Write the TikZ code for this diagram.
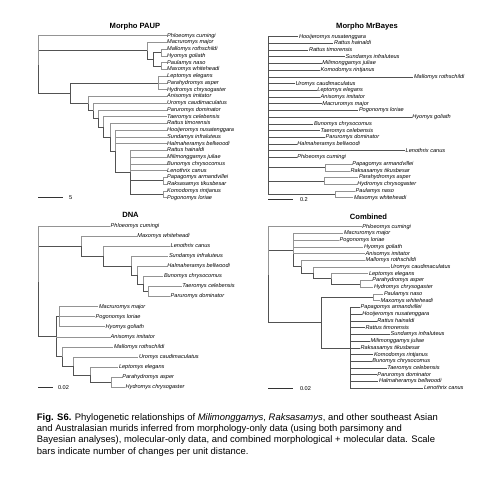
\documentclass[tikz,border=0pt]{standalone}
\usepackage{fontspec}
\setmainfont{Liberation Sans}
\usetikzlibrary{positioning}

\begin{document}
\begin{tikzpicture}[x=1pt,y=-1pt,
  lf/.style={anchor=west,inner sep=0.5pt,text height=4pt,text depth=1.2pt,font=\fontsize{5.6}{6}\selectfont\itshape},
  ttl/.style={font=\fontsize{7.6}{9}\selectfont\bfseries},
  br/.style={draw=black!42,line width=0.7pt},
  brk/.style={draw=black!68,line width=0.8pt},
  sc/.style={draw=black!80,line width=0.6pt},
  scl/.style={font=\fontsize{5.6}{6}\selectfont,inner sep=0.5pt}
]
\useasboundingbox (0,0) rectangle (501,480);

% Morpho PAUP
\node[ttl] (tpaup) at (135,26.7) {Morpho PAUP};
\foreach \t [count=\i] in {Phloeomys cumingi,Macruromys major,Mallomys rothschildi,
  Hyomys goliath,Paulamys naso,Maxomys whiteheadi,Leptomys elegans,Parahydromys asper,
  Hydromys chrysogaster,Anisomys imitator,Uromys caudimaculatus,Paruromys dominator,
  Taeromys celebensis,Rattus timorensis,Hooijeromys nusatenggara,Sundamys infraluteus,
  Halmaheramys bellwoodi,Rattus hainaldi,Milimonggamys juliae,Bunomys chrysocomus,
  Lenothrix canus,Papagomys armandvillei,Raksasamys tikusbesar,Komodomys rintjanus,
  Pogonomys loriae}
  \node[lf] (a\i) at (166.5,{35.7+6.75*(\i-1)}) {\t};
\coordinate (a0) at (38.3,64.5);
\coordinate (aA) at (147.3,50.89);
\coordinate (aA1) at (153.3,59.33);
\coordinate (aA2) at (161.7,52.58);
\coordinate (aA3) at (161.7,66.08);
\coordinate (aB) at (70,93.3);
\coordinate (aL) at (158.3,82.95);
\coordinate (aC) at (88.3,103.65);
\coordinate (aD) at (93.3,110.85);
\coordinate (aE) at (98.3,118.49);
\coordinate (aF) at (103.3,127.04);
\coordinate (aG) at (110,137.37);
\coordinate (aH) at (115,151.3);
\coordinate (aI) at (130,172.39);
\coordinate (aJ) at (163.3,180.83);
\coordinate (aK) at (163.3,194.33);
\foreach \p/\c in {a0/aA,a0/aB,aA/aA1,aA1/aA2,aA1/aA3,aB/aL,aB/aC,aC/aD,aD/aE,
  aE/aF,aF/aG,aG/aH,aH/aI,aI/aJ,aI/aK}
  \draw[brk] (\p) |- (\c);
\foreach \p/\c in {a0/a1,aA/a2,aA2/a3,aA2/a4,aA3/a5,aA3/a6,aL/a7,aL/a8,aL/a9,
  aC/a10,aD/a11,aE/a12,aF/a13,aG/a14,aH/a15,aH/a16,aH/a17,aI/a18,aI/a19,aI/a20,
  aI/a21,aJ/a22,aJ/a23,aK/a24,aK/a25}
  \draw[br] (\p) |- (\c);
\coordinate (sa1) at (38.3,197.7);
\coordinate (sa2) at (63.3,197.7);
\draw[sc] (sa1) -- (sa2);
\node[scl,right=5pt of sa2] (sa) {5};

% Morpho MrBayes
\node[ttl] (tbayes) at (367,27) {Morpho MrBayes};
\foreach \x/\t [count=\i] in {298.3/Hooijeromys nusatenggara,333.3/Rattus hainaldi,
  308.3/Rattus timorensis,345/Sundamys infraluteus,321.7/Milimonggamys juliae,
  320/Komodomys rintjanus,413.3/Mallomys rothschildi,295/Uromys caudimaculatus,
  316.7/Leptomys elegans,320/Anisomys imitator,321.7/Macruromys major,
  358.3/Pogonomys loriae,411.7/Hyomys goliath,313.3/Bunomys chrysocomus,
  320/Taeromys celebensis,325/Paruromys dominator,296.7/Halmaheramys bellwoodi,
  405/Lenothrix canus,296.7/Phloeomys cumingi,351.7/Papagomys armandvillei,
  350/Raksasamys tikusbesar,358.3/Parahydromys asper,356.7/Hydromys chrysogaster,
  355/Paulamys naso,353.3/Maxomys whiteheadi}
  \node[lf] (b\i) at (\x,{36.7+6.708*(\i-1)}) {\t};
\coordinate (b0) at (268.3,115.5);
\coordinate (bP) at (325,167.5);
\coordinate (bQ) at (324,180.95);
\coordinate (bS) at (335,194.35);
\foreach \p/\c in {b0/bP,b0/bQ,b0/bS}
  \draw[brk] (\p) |- (\c);
\foreach \i in {1,...,19}
  \draw[brk] (b0) |- (b\i);
\foreach \p/\c in {bP/b20,bP/b21,bQ/b22,bQ/b23,bS/b24,bS/b25}
  \draw[br] (\p) |- (\c);
\coordinate (sb1) at (268.3,199.5);
\coordinate (sb2) at (293.3,199.5);
\draw[sc] (sb1) -- (sb2);
\node[scl,right=6pt of sb2] (sb) {0.2};

% DNA
\node[ttl] (tdna) at (130.5,215) {DNA};
\foreach \x/\t [count=\i] in {110/Phloeomys cumingi,136.7/Maxomys whiteheadi,
  170/Lenothrix canus,168.3/Sundamys infraluteus,166.7/Halmaheramys bellwoodi,
  163.3/Bunomys chrysocomus,181.7/Taeromys celebensis,170/Paruromys dominator,
  98.3/Macruromys major,95/Pogonomys loriae,105/Hyomys goliath,110/Anisomys imitator,
  113.3/Mallomys rothschildi,138.3/Uromys caudimaculatus,118.3/Leptomys elegans,
  121.7/Parahydromys asper,125/Hydromys chrysogaster}
  \node[lf] (c\i) at (\x,{226+10.08*(\i-1)}) {\t};
\coordinate (c0) at (38.3,281.5);
\coordinate (cR1) at (81.7,246.1);
\coordinate (cR2) at (103.3,256.1);
\coordinate (cR3) at (131.7,265.9);
\coordinate (cR4) at (137.3,275.4);
\coordinate (cR5) at (143.3,284.2);
\coordinate (cR6) at (148.3,291.5);
\coordinate (cN) at (56.7,336.6);
\coordinate (cN1) at (59.3,316.7);
\coordinate (cN3) at (62.7,356.5);
\coordinate (cN4) at (73.3,366.1);
\coordinate (cN5) at (90,374.9);
\coordinate (cN6) at (111.7,382.2);
\foreach \p/\c in {c0/cR1,c0/cN,cR1/cR2,cR2/cR3,cR3/cR4,cR4/cR5,cR5/cR6,
  cN/cN1,cN/cN3,cN3/cN4,cN4/cN5,cN5/cN6}
  \draw[brk] (\p) |- (\c);
\foreach \p/\c in {c0/c1,cR1/c2,cR2/c3,cR3/c4,cR4/c5,cR5/c6,cR6/c7,cR6/c8,
  cN1/c9,cN1/c10,cN1/c11,cN/c12,cN3/c13,cN4/c14,cN5/c15,cN6/c16,cN6/c17}
  \draw[br] (\p) |- (\c);
\coordinate (sc1) at (38.3,387.3);
\coordinate (sc2) at (53.3,387.3);
\draw[sc] (sc1) -- (sc2);
\node[scl,right=4pt of sc2] (scale3) {0.02};

% Combined
\node[ttl] (tcomb) at (368.5,217) {Combined};
\foreach \x/\t [count=\i] in {361.7/Phloeomys cumingi,343.3/Macruromys major,
  339/Pogonomys loriae,363.3/Hyomys goliath,365/Anisomys imitator,
  365/Mallomys rothschildi,390/Uromys caudimaculatus,368.3/Leptomys elegans,
  371.7/Parahydromys asper,373.3/Hydromys chrysogaster,383.3/Paulamys naso,
  380/Maxomys whiteheadi,360/Papagomys armandvillei,361.7/Hooijeromys nusatenggara,
  376.7/Rattus hainaldi,365/Rattus timorensis,390/Sundamys infraluteus,
  370/Milimonggamys juliae,360/Raksasamys tikusbesar,373.3/Komodomys rintjanus,
  371.7/Bunomys chrysocomus,386.7/Taeromys celebensis,376.7/Paruromys dominator,
  378.3/Halmaheramys bellwoodi,423.3/Lenothrix canus}
  \node[lf] (d\i) at (\x,{226.7+6.733*(\i-1)}) {\t};
\coordinate (d0) at (268.3,274.7);
\coordinate (dG) at (293.3,250.06);
\coordinate (dM1) at (301.7,266.68);
\coordinate (dM2) at (313.3,272.99);
\coordinate (dM3) at (331.7,278.88);
\coordinate (dM4) at (360,283.93);
\coordinate (dR) at (321.7,322.65);
\coordinate (dQ) at (373.3,297.4);
\coordinate (dP) at (350,347.9);
\foreach \p/\c in {d0/dG,d0/dR,dG/dM1,dM1/dM2,dM2/dM3,dM3/dM4,dR/dQ,dR/dP}
  \draw[brk] (\p) |- (\c);
\foreach \p/\c in {d0/d1,dG/d2,dG/d3,dG/d4,dG/d5,dM1/d6,dM2/d7,dM3/d8,dM4/d9,
  dM4/d10,dQ/d11,dQ/d12}
  \draw[br] (\p) |- (\c);
\foreach \i in {13,...,25}
  \draw[brk] (dP) |- (d\i);
\coordinate (sd1) at (268.3,388.3);
\coordinate (sd2) at (293.3,388.3);
\draw[sc] (sd1) -- (sd2);
\node[scl,right=6pt of sd2] (scale4) {0.02};

% caption
\node[anchor=north west,align=left,inner sep=0pt,
  font=\fontsize{9.45}{11.2}\selectfont] (cap) at (36.7,413.5)
  {\textbf{Fig. S6.} Phylogenetic relationships of \textit{Milimonggamys}, \textit{Raksasamys}, and other southeast Asian\\
   and Australasian murids inferred from morphology-only data (using both parsimony and\\
   Bayesian analyses), molecular-only data, and combined morphological + molecular data. Scale\\
   bars indicate number of changes per unit distance.};
\end{tikzpicture}
\end{document}
